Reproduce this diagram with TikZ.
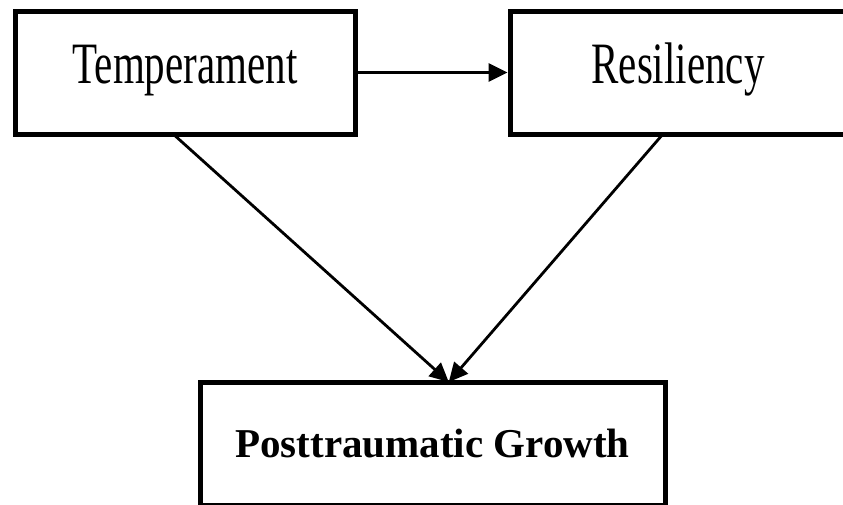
\documentclass[tikz,border=0pt]{standalone}
\usepackage{fontspec}
\setmainfont{Liberation Serif}
\usetikzlibrary{arrows.meta,calc}
\begin{document}
\begin{tikzpicture}[x=1pt,y=-1pt,
  box/.style={draw=black,line width=5pt,outer sep=0pt,inner sep=0pt},
  lbl/.style={font=\fontsize{41}{49}\selectfont,anchor=base,inner sep=0pt},
  conn/.style={line width=2.8pt,-{Triangle[length=19pt,width=18pt]}}]
\useasboundingbox (0,0) rectangle (843,504);
\clip (0,0) rectangle (843,504);
\fill[white] (0,0) rectangle (843,504);
\node[box,minimum width=340pt,minimum height=123pt] (temp) at (185,72.5) {};
\node[box,minimum width=340pt,minimum height=123pt] (res) at (680,72.5) {};
\node[box,minimum width=465pt,minimum height=123pt] (ptg) at (432.5,443.5) {};
\node[lbl] (templ) at (185,83.5) {\scalebox{1}[1.43]{Temperament}};
\node[lbl] (resl) at (678,83.5) {\scalebox{1}[1.43]{Resiliency}};
\node[lbl,font=\fontsize{41}{49}\selectfont\bfseries] (ptgl) at (432.5,457) {Posttraumatic Growth};
\coordinate (tip) at ($(ptg.north west)!0.535!(ptg.north east)$);
\draw[conn,shorten >=2.5pt] (temp.east) -- (res.west);
\draw[conn] ($(temp.south west)!0.465!(temp.south east)$) -- (tip);
\draw[conn] ($(res.south west)!0.45!(res.south east)$) -- (tip);
\end{tikzpicture}
\end{document}
